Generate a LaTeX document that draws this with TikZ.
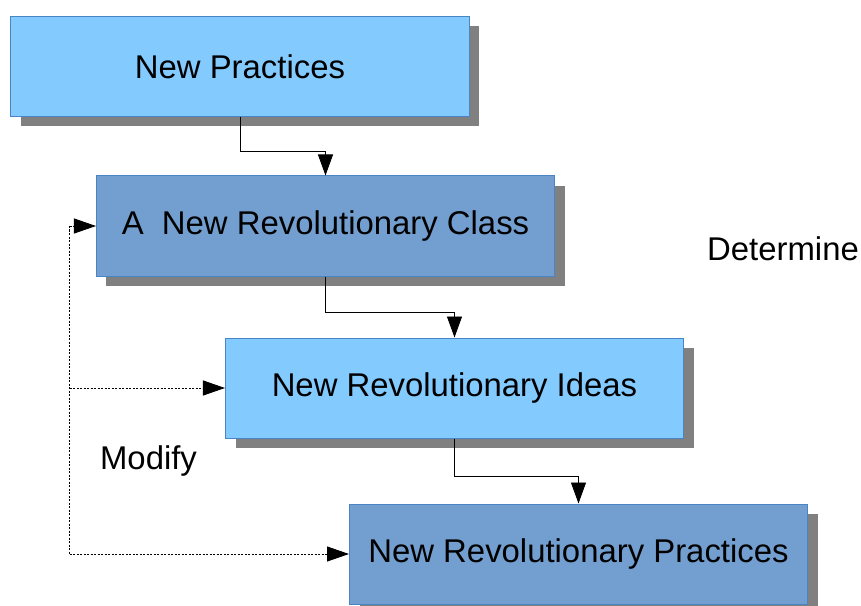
\documentclass[tikz,border=0pt]{standalone}
\usepackage{fontspec}
\setmainfont{Liberation Sans}
\usetikzlibrary{shadows,arrows.meta}
\definecolor{lightbox}{HTML}{83CAFF}
\definecolor{darkbox}{HTML}{729FCF}
\definecolor{boxline}{HTML}{4A84C4}
\definecolor{shadowgray}{HTML}{808080}
\begin{document}
\begin{tikzpicture}[x=1bp,y=-1bp,
  box/.style={rectangle, draw=boxline, line width=1bp, minimum width=458bp, minimum height=100bp,
    inner sep=0pt, font=\fontsize{33}{39}\selectfont, text=black,
    drop shadow={shadow xshift=10bp, shadow yshift=-10bp, fill=shadowgray, opacity=1}},
  lightb/.style={box, fill=lightbox},
  darkb/.style={box, fill=darkbox},
  conn/.style={draw=black, line width=0.9bp, -{Triangle[length=21bp,width=15bp]}},
  dotline/.style={draw=black, line width=0.9bp, dash pattern=on 2bp off 1.5bp},
  dotarrow/.style={dotline, -{Triangle[length=22bp,width=15bp]}},
  lbl/.style={font=\fontsize{33}{39}\selectfont, text=black, inner sep=0pt}
]
\useasboundingbox (0,0) rectangle (861,606);
\node[lightb] (np) at (240,66.5) {New Practices};
\node[darkb] (nc) at (325.5,226) {A\ \ New Revolutionary Class};
\node[lightb] (nd) at (454.5,388) {New Revolutionary Ideas};
\node[darkb] (nrp) at (578.5,554) {New Revolutionary Practices};

\node[lbl] (det) at (783,249) {Determine};
\node[lbl] (mod) at (148.5,461) {Modify};

\draw[conn] (np.south) -- ++(0,34) -| (nc.north);
\draw[conn] (nc.south) -- ++(0,36) -| (nd.north);
\draw[conn] (nd.south) -- ++(0,38) -| (nrp.north);

\coordinate (s1) at (69.5,226);
\coordinate (s2) at (69.5,388);
\coordinate (s3) at (69.5,554);
\draw[dotline] (s1) -- (s3);
\draw[dotarrow] (s1) -- (nc.west);
\draw[dotarrow] (s2) -- (nd.west);
\draw[dotarrow] (s3) -- (nrp.west);
\end{tikzpicture}
\end{document}
